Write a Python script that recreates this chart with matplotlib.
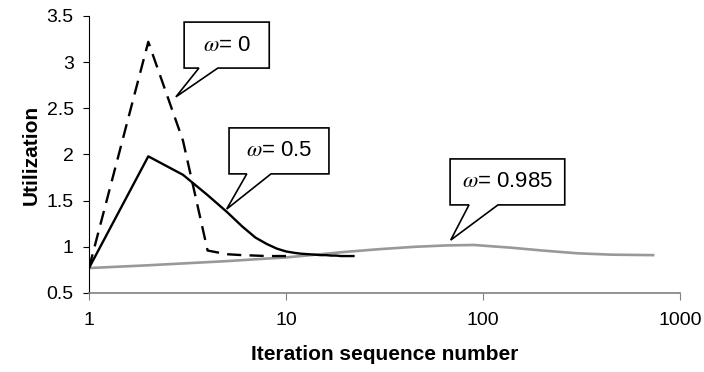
import numpy as np
import matplotlib
matplotlib.use("Agg")
import matplotlib.pyplot as plt
from matplotlib.patches import Polygon

plt.rcParams['font.family'] = ['Liberation Sans', 'DejaVu Sans']
plt.rcParams['mathtext.fontset'] = 'stix'

# omega = 0 (dashed)
it_w0 = [1, 2, 3, 4, 5, 6, 7, 8, 9, 10]
u_w0 = [0.77, 3.22, 2.15, 0.96, 0.92, 0.91, 0.905, 0.9, 0.9, 0.9]

# omega = 0.5 (solid black)
it_w05 = list(range(1, 23))
u_w05 = [0.77, 1.98, 1.78, 1.56, 1.38, 1.22, 1.10, 1.03, 0.98, 0.95, 0.935, 0.925,
         0.92, 0.915, 0.91, 0.91, 0.905, 0.905, 0.9, 0.9, 0.9, 0.9]

# omega = 0.985 (grey)
it_w985 = [1, 2, 3, 5, 7, 10, 15, 20, 30, 45, 65, 90, 140, 200, 300, 450, 730]
u_w985 = [0.77, 0.80, 0.82, 0.845, 0.865, 0.885, 0.92, 0.945, 0.975, 1.0, 1.015,
          1.02, 0.99, 0.96, 0.93, 0.915, 0.91]

labels = [r'$\mathit{\omega}$= 0', r'$\mathit{\omega}$= 0.5', r'$\mathit{\omega}$= 0.985']

fig = plt.figure(figsize=(7.04, 3.72), dpi=100)
ax = fig.add_axes([0.1264, 0.2124, 0.8395, 0.7446])

ax.plot(it_w985, u_w985, color='#999999', lw=1.9)
ax.plot(it_w0, u_w0, color='black', lw=1.7, ls=(0, (6, 3.5)))
ax.plot(it_w05, u_w05, color='black', lw=1.7)

ax.set_xscale('log')
ax.set_xlim(1, 1000)
ax.set_ylim(0.5, 3.5)
ax.set_yticks(np.arange(0.5, 3.51, 0.5))
ax.set_yticklabels(['0.5', '1', '1.5', '2', '2.5', '3', '3.5'])
ax.set_xticks([1, 10, 100, 1000])
ax.set_xticklabels(['1', '10', '100', '1000'])
ax.xaxis.set_minor_locator(matplotlib.ticker.NullLocator())

for s in ['top', 'right']:
    ax.spines[s].set_visible(False)
ax.spines['left'].set_color('black')
ax.spines['bottom'].set_color('#808080')
ax.spines['bottom'].set_linewidth(1.2)
ax.tick_params(axis='y', length=4, pad=7, labelsize=14)
ax.tick_params(axis='x', length=5, pad=9, labelsize=14, color='#808080')

ax.set_xlabel('Iteration sequence number', fontsize=15, fontweight='bold', labelpad=11)
ax.set_ylabel('Utilization', fontsize=15, fontweight='bold', labelpad=4)


# callout boxes: (x0, x1, y_bottom, y_top, base1, base2, tip) in axes fraction
def callout(x0, x1, yb, yt, b1, b2, tip, text):
    verts = [(x0, yt), (x1, yt), (x1, yb), (b2, yb), tip, (b1, yb), (x0, yb)]
    poly = Polygon(verts, closed=True, facecolor='white', edgecolor='black',
                   lw=1.2, transform=ax.transAxes, clip_on=False, zorder=5)
    ax.add_patch(poly)
    ax.text((x0 + x1) / 2, (yb + yt) / 2, text, transform=ax.transAxes,
            ha='center', va='center', fontsize=16, zorder=6)


callout(0.161, 0.305, 0.812, 0.978, 0.186, 0.218, (0.147, 0.708), labels[0])
callout(0.237, 0.406, 0.430, 0.596, 0.267, 0.308, (0.233, 0.303), labels[1])
callout(0.611, 0.805, 0.318, 0.484, 0.643, 0.692, (0.612, 0.191), labels[2])

fig.savefig('out.png', dpi=100)
